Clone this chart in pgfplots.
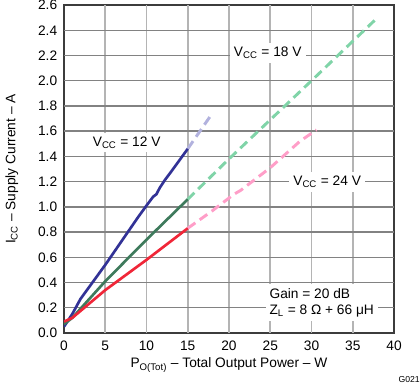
\documentclass[border=0pt]{standalone}
\usepackage{pgfplots}
\pgfplotsset{compat=1.18}
\usepackage{fontspec}
\setmainfont{Liberation Sans}
\definecolor{bsolid}{RGB}{50,50,150}
\definecolor{bdash}{RGB}{178,178,222}
\definecolor{gsolid}{RGB}{62,122,92}
\definecolor{gdash}{RGB}{128,212,168}
\definecolor{rsolid}{RGB}{240,38,56}
\definecolor{rdash}{RGB}{255,158,200}
\definecolor{gridv}{RGB}{180,180,180}
\definecolor{gridh}{RGB}{130,130,130}
\definecolor{framec}{RGB}{60,60,60}
\begin{document}
\begin{tikzpicture}
\fontsize{10.3}{12}\selectfont
\begin{axis}[
  at={(0,0)}, anchor=south west,
  scale only axis, width=247.5pt, height=246pt,
  xmin=0, xmax=40, ymin=0, ymax=2.6,
  xtick={0,5,10,15,20,25,30,35,40}, ytick={0,0.2,0.4,0.6,0.8,1.0,1.2,1.4,1.6,1.8,2.0,2.2,2.4,2.6},
  /pgf/number format/assume math mode=true,
  tick label style={font=\fontsize{10.3}{12}\selectfont},
  xticklabel style={yshift=-2.5pt},
  yticklabel style={xshift=-1.5pt, /pgf/number format/fixed, /pgf/number format/fixed zerofill, /pgf/number format/precision=1},
  major tick length=0pt,
  axis line style={framec, line width=1.5pt},
  label style={font=\fontsize{10.3}{12}\selectfont},
  xlabel={P\textsubscript{O(Tot)} – Total Output Power – W},
  ylabel={I\textsubscript{CC} – Supply Current – A},
  xlabel style={at={(axis description cs:0.5,-0.0976)}, anchor=center},
  ylabel style={at={(axis description cs:-0.158,0.5)}, anchor=center},
  clip=true,
]
% grid drawn as thin filled rectangles
\fill[gridv] (axis cs:4.89,0) rectangle (axis cs:5.11,2.6);
\fill[gridv] (axis cs:9.89,0) rectangle (axis cs:10.11,2.6);
\fill[gridv] (axis cs:14.89,0) rectangle (axis cs:15.11,2.6);
\fill[gridv] (axis cs:19.89,0) rectangle (axis cs:20.11,2.6);
\fill[gridv] (axis cs:24.89,0) rectangle (axis cs:25.11,2.6);
\fill[gridv] (axis cs:29.89,0) rectangle (axis cs:30.11,2.6);
\fill[gridv] (axis cs:34.89,0) rectangle (axis cs:35.11,2.6);
\fill[gridh] (axis cs:0,0.1945) rectangle (axis cs:40,0.2055);
\fill[gridh] (axis cs:0,0.3945) rectangle (axis cs:40,0.4055);
\fill[gridh] (axis cs:0,0.5945) rectangle (axis cs:40,0.6055);
\fill[gridh] (axis cs:0,0.7945) rectangle (axis cs:40,0.8055);
\fill[gridh] (axis cs:0,0.9945) rectangle (axis cs:40,1.0055);
\fill[gridh] (axis cs:0,1.1945) rectangle (axis cs:40,1.2055);
\fill[gridh] (axis cs:0,1.3945) rectangle (axis cs:40,1.4055);
\fill[gridh] (axis cs:0,1.5945) rectangle (axis cs:40,1.6055);
\fill[gridh] (axis cs:0,1.7945) rectangle (axis cs:40,1.8055);
\fill[gridh] (axis cs:0,1.9945) rectangle (axis cs:40,2.0055);
\fill[gridh] (axis cs:0,2.1945) rectangle (axis cs:40,2.2055);
\fill[gridh] (axis cs:0,2.3945) rectangle (axis cs:40,2.4055);
% 12 V
\addplot[bdash, line width=2.2pt, dash pattern=on 7pt off 4pt] coordinates {(15,1.46) (17.75,1.72)};
\addplot[bsolid, line width=2pt] coordinates {(0,0.05) (1,0.15) (2,0.27) (3,0.36) (5,0.54) (7,0.73) (9,0.92) (10,1.01) (10.8,1.08) (11.2,1.10) (11.6,1.15) (12.2,1.21) (13,1.28) (14,1.37) (15,1.46)};
% 18 V
\addplot[gdash, line width=2.2pt, dash pattern=on 7pt off 4pt] coordinates {(15,1.06) (20,1.38) (25,1.69) (30,2.0) (38,2.5)};
\addplot[gsolid, line width=2pt] coordinates {(0,0.07) (1,0.12) (5,0.41) (10,0.74) (15,1.06)};
% 24 V
\addplot[rdash, line width=2.2pt, dash pattern=on 7pt off 4pt] coordinates {(15,0.83) (18,0.97) (20,1.07) (20.6,1.10) (21.4,1.13) (25,1.31) (28.6,1.52) (30.6,1.61)};
\addplot[rsolid, line width=2pt] coordinates {(0,0.09) (1,0.12) (5,0.34) (10,0.58) (12,0.68) (15,0.83)};
\node[fill=white, inner sep=3pt] at (axis cs:7.6,1.51) {V\textsubscript{CC} = 12 V};
\node[fill=white, inner sep=3pt] at (axis cs:24.7,2.22) {V\textsubscript{CC} = 18 V};
\node[fill=white, inner sep=3pt] at (axis cs:31.9,1.20) {V\textsubscript{CC} = 24 V};
\node[fill=white, inner sep=3pt, anchor=west, align=left] at (axis cs:24.4,0.24) {Gain = 20 dB\\Z\textsubscript{L} = 8 Ω + 66 μH};
\end{axis}
\node[anchor=south east, inner sep=0pt, font=\fontsize{6.5}{7}\selectfont] at (267pt,-37.5pt) {G021};
\pgfresetboundingbox
\path (-48pt,-37.5pt) rectangle (267pt,249.75pt);
\end{tikzpicture}
\end{document}
